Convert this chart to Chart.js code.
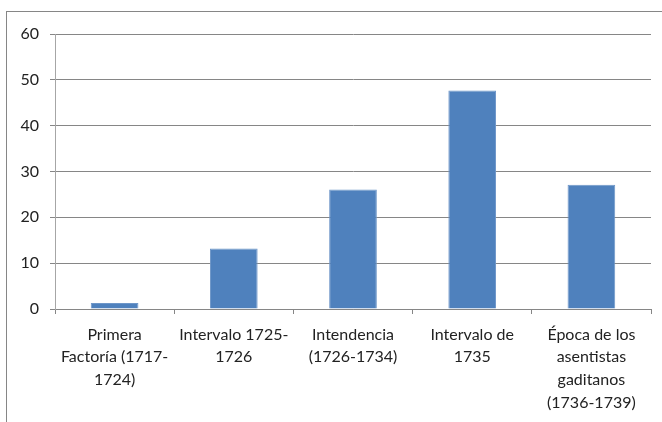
<!DOCTYPE html>
<html>
<head>
<meta charset="utf-8">
<script src="https://cdn.jsdelivr.net/npm/chart.js@4/dist/chart.umd.min.js"></script>
<style>
  html, body { margin: 0; padding: 0; background: #fff; overflow: hidden; }
  #wrap { position: relative; width: 662px; height: 422px; }
</style>
</head>
<body>
<div id="wrap"><canvas id="c" width="662" height="422"></canvas></div>
<script>
// Periods (multi-line category labels)
const categories = [
  ['Primera', 'Factoría (1717-', '1724)'],
  ['Intervalo 1725-', '1726'],
  ['Intendencia', '(1726-1734)'],
  ['Intervalo de', '1735'],
  ['Época de los', 'asentistas', 'gaditanos', '(1736-1739)']
];
const values = [1.3, 13.2, 26.1, 47.7, 27.1];
const yTicks = [0, 10, 20, 30, 40, 50, 60];

const lineGrey = '#868686';
const fontFamily = 'Lato, "Open Sans", sans-serif';

// Outer frame of the chart object (left and top edges visible)
const framePlugin = {
  id: 'frame',
  beforeDraw(chart) {
    const ctx = chart.ctx;
    ctx.save();
    ctx.fillStyle = '#fff';
    ctx.fillRect(0, 0, chart.width, chart.height);
    ctx.strokeStyle = lineGrey;
    ctx.lineWidth = 1;
    ctx.strokeRect(6.5, 11.5, 800, 600);
    ctx.restore();
  }
};

new Chart(document.getElementById('c'), {
  type: 'bar',
  data: {
    labels: categories,
    datasets: [{
      data: values,
      backgroundColor: '#4F81BD',
      borderColor: '#6E96C8',
      borderWidth: 1,
      categoryPercentage: 1,
      barPercentage: 0.4
    }]
  },
  options: {
    responsive: false,
    animation: false,
    events: [],
    layout: { padding: { left: 8, top: 34, right: 11, bottom: 0 } },
    plugins: { legend: { display: false }, tooltip: { enabled: false } },
    scales: {
      x: {
        offset: true,
        grid: {
          offset: true,
          drawOnChartArea: false,
          drawTicks: true,
          tickLength: 5,
          color: lineGrey
        },
        border: { color: lineGrey },
        ticks: {
          color: '#222',
          font: { family: fontFamily, size: 16, lineHeight: 1.43 },
          padding: 9,
          maxRotation: 0,
          minRotation: 0,
          autoSkip: false
        },
        afterFit(scale) { scale.height = 113; }
      },
      y: {
        min: 0,
        max: 60,
        afterBuildTicks(scale) { scale.ticks = yTicks.map(v => ({ value: v })); },
        grid: { color: lineGrey, tickLength: 5 },
        border: { color: '#a6a6a6' },
        ticks: { color: '#222', font: { family: fontFamily, size: 16 }, padding: 11 },
        afterFit(scale) { scale.width = 47; }
      }
    }
  },
  plugins: [framePlugin]
});
</script>
</body>
</html>
